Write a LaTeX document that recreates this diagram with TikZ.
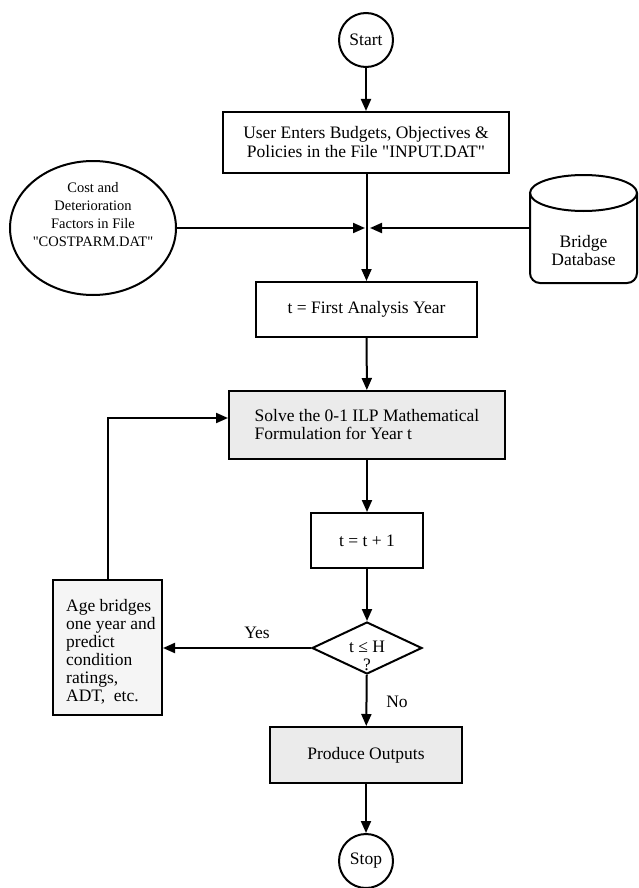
\documentclass[tikz,border=0pt]{standalone}
\usepackage{fontspec}
\setmainfont{Liberation Serif}[Ligatures=TeXOff]
\usetikzlibrary{arrows.meta,shapes.geometric}
\begin{document}
\begin{tikzpicture}[x=1pt,y=-1pt,
  lw/.style={line width=2pt},
  mainfont/.style={font=\fontsize{17.5}{19}\selectfont},
  flowbox/.style={draw, lw, rectangle, inner sep=0pt, mainfont},
  txt/.style={inner sep=0pt, mainfont},
  arr/.style={lw, -{Triangle[length=12pt,width=10pt]}},
  grayfill/.style={fill=black!8},
  lightfill/.style={fill=black!4}]
\path[use as bounding box, fill=white] (0,0) rectangle (638,888);

% terminals
\node[draw, lw, circle, minimum size=54pt, inner sep=0pt, mainfont] (start) at (366,40) {Start};
\node[draw, lw, circle, minimum size=54pt, inner sep=0pt, mainfont] (stop) at (366,861) {Stop};

% boxes
\node[flowbox, minimum width=286pt, minimum height=61pt, align=center] (input) at (366,142.5)
  {User Enters Budgets, Objectives \&\\Policies in the File "INPUT.DAT"};
\node[flowbox, minimum width=221pt, minimum height=55pt] (first) at (366.5,309.5) {t = First Analysis Year};
\node[flowbox, grayfill, minimum width=276pt, minimum height=68pt, align=left,
  font=\fontsize{17.5}{18}\selectfont] (solve) at (367,425)
  {Solve the 0-1 ILP Mathematical\\Formulation for Year t};
\node[flowbox, minimum width=112pt, minimum height=55pt] (tt) at (367,540.5) {t = t + 1};
\node[draw, lw, diamond, minimum width=110pt, minimum height=52pt, inner sep=0pt] (dec) at (367,648) {};
\node[txt, align=center, font=\fontsize{17.5}{18}\selectfont] (dectxt) at (367,656) {t ≤ H\\?};
\node[flowbox, lightfill, minimum width=109pt, minimum height=135pt] (age) at (107.5,647.5) {};
\node[txt, anchor=west, align=left, font=\fontsize{17.5}{18}\selectfont] (agetxt) at (66,652)
  {Age bridges\\one year and\\predict\\condition\\ratings,\\ADT,\ \ etc.};
\node[flowbox, grayfill, minimum width=192pt, minimum height=56pt] (produce) at (366,755) {Produce Outputs};

% data sources
\node[draw, lw, ellipse, minimum width=166pt, minimum height=134pt, inner sep=0pt] (cost) at (93,228) {};
\node[txt, align=center, font=\fontsize{14.5}{18}\selectfont] (costtxt) at (93,215)
  {Cost and\\Deterioration\\Factors in File\\"COSTPARM.DAT"};
\draw[lw, fill=white] (530,193) -- (530,273) arc[start angle=180, end angle=270, radius=10pt]
  -- (627,283) arc[start angle=270, end angle=360, radius=10pt] -- (637,193);
\draw[lw] (583.5,193) ellipse [x radius=53.5pt, y radius=18pt];
\node[txt, align=center, font=\fontsize{17.5}{18}\selectfont] (dbtxt) at (583.5,251) {Bridge\\Database};
\coordinate (dbL) at (530,228);
\coordinate (jl) at (365,228);
\coordinate (jr) at (370,228);

% labels
\node[txt] (yes) at (257,633) {Yes};
\node[txt] (no) at (397,702) {No};

% connectors
\draw[arr] (start) -- (input);
\draw[arr] (input.south -| first.north) -- (first.north);
\draw[arr] (cost.east) -- (jl);
\draw[arr] (dbL) -- (jr);
\draw[arr] (first) -- (solve);
\draw[arr] (solve) -- (tt);
\draw[arr] (tt) -- (dec);
\draw[arr] (dec.west) -- (dec.west -| age.east);
\draw[arr] (dec) -- (produce);
\draw[arr] (produce) -- (stop);
\draw[arr] (age.north) |- ([yshift=7pt]solve.west);
\end{tikzpicture}
\end{document}
